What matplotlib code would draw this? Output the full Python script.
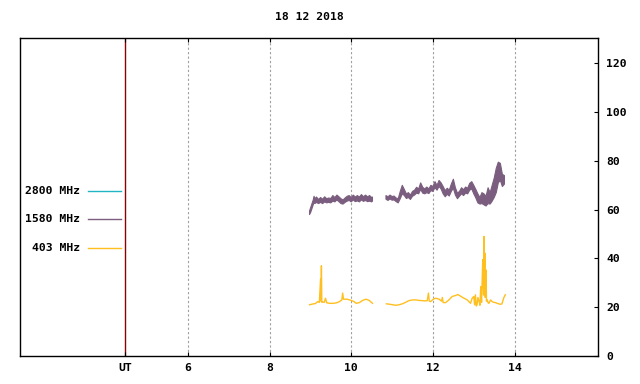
import numpy as np
import matplotlib
matplotlib.use('Agg')
import matplotlib.pyplot as plt

# chart data
title = '18 12 2018'
hour_ticks = [6, 8, 10, 12, 14]
y_ticks = [0, 20, 40, 60, 80, 100, 120]
ut_hour = 4.46
legend_names = ['2800 MHz', '1580 MHz', '403 MHz']
legend_colors = ['#20b4c4', '#7b5e7f', '#ffbf1f']

# 1580 MHz: noisy trace given as low / high envelope (NaN = gap in data)
t_1580 = [8.98, 9.01, 9.04, 9.07, 9.09, 9.11, 9.15, 9.20, 9.25, 9.30, 9.35, 9.40,
          9.45, 9.50, 9.55, 9.60, 9.65, 9.70, 9.75, 9.80, 9.85, 9.90, 9.95, 10.00,
          10.05, 10.10, 10.15, 10.20, 10.25, 10.30, 10.35, 10.40, 10.45, 10.50, 10.52,
          10.70,
          10.85, 10.90, 10.95, 11.00, 11.05, 11.10, 11.15, 11.20, 11.25, 11.30, 11.35,
          11.40, 11.45, 11.50, 11.55, 11.60, 11.65, 11.70, 11.75, 11.80, 11.85, 11.90,
          11.95, 12.00, 12.05, 12.10, 12.15, 12.20, 12.25, 12.30, 12.35, 12.40, 12.45,
          12.50, 12.55, 12.60, 12.65, 12.70, 12.75, 12.80, 12.85, 12.90, 12.95, 13.00,
          13.05, 13.10, 13.15, 13.20, 13.25, 13.30, 13.35, 13.40, 13.45, 13.50, 13.55,
          13.60, 13.65, 13.70, 13.75]
lo_1580 = [58.0, 59.0, 60.5, 62.0, 63.0, 62.5, 63.0, 62.5, 63.0, 62.5,
           63.2, 62.8, 63.0, 62.8, 63.5, 63.2, 64.0, 63.3, 62.5, 62.3,
           63.0, 63.5, 63.8, 63.2, 64.0, 63.3, 63.6, 63.2, 64.0, 63.4,
           63.8, 63.3, 63.5, 63.2, 63.5,
           np.nan,
           64.3, 63.8, 64.4, 63.9, 64.0, 63.3, 62.8, 64.5, 66.5, 65.8,
           64.6, 65.0, 64.2, 65.5, 66.0, 66.8, 66.5, 68.3, 66.8, 66.5,
           67.0, 66.6, 67.8, 67.5, 69.0, 68.0, 69.5, 68.5, 66.5, 65.3,
           66.3, 65.6, 67.5, 68.8, 66.0, 64.5, 65.5, 66.5, 65.8, 66.8,
           66.5, 68.0, 68.5, 66.5, 64.8, 62.8, 62.3, 62.5, 62.0, 61.5,
           62.5, 62.3, 63.5, 65.0, 67.0, 71.0, 72.0, 69.5, 70.5]
hi_1580 = [59.5, 61.0, 62.5, 64.0, 65.5, 64.5, 65.2, 64.2, 65.0, 64.3,
           65.3, 64.5, 64.8, 64.6, 65.8, 65.0, 66.0, 65.3, 64.5, 64.0,
           64.8, 65.5, 65.8, 65.0, 66.0, 65.2, 65.8, 65.2, 66.2, 65.3,
           66.0, 65.3, 65.8, 65.0, 65.2,
           np.nan,
           65.8, 65.3, 66.0, 65.4, 65.6, 64.8, 64.5, 67.5, 70.0, 68.3,
           66.5, 67.0, 66.0, 67.5, 68.0, 69.2, 68.5, 71.0, 69.2, 68.5,
           69.3, 68.5, 70.0, 69.5, 71.5, 70.0, 72.0, 71.0, 69.5, 67.8,
           68.8, 68.0, 70.5, 72.5, 69.0, 66.8, 67.5, 69.0, 68.2, 69.3,
           68.8, 70.8, 71.5, 70.0, 68.3, 66.5, 65.0, 67.0, 66.5, 65.5,
           69.0, 67.0, 70.0, 73.0, 77.0, 79.5, 79.0, 74.5, 74.0]

# 403 MHz
t_403 = [8.98, 9.05, 9.12, 9.18, 9.22, 9.25, 9.26, 9.27, 9.28, 9.30, 9.34, 9.37,
         9.40, 9.48, 9.56, 9.64, 9.71, 9.77, 9.79, 9.81, 9.90, 10.00, 10.07, 10.12,
         10.20, 10.28, 10.36, 10.44, 10.52,
         10.70,
         10.86, 10.95, 11.09, 11.17, 11.25, 11.33, 11.41, 11.50, 11.58, 11.66, 11.74,
         11.80, 11.86, 11.89, 11.91, 11.94, 12.02, 12.07, 12.15, 12.21, 12.23, 12.25,
         12.31, 12.39, 12.47, 12.55, 12.61, 12.67, 12.76, 12.84, 12.92, 12.96, 13.00,
         13.02, 13.04, 13.06, 13.08, 13.10, 13.13, 13.15, 13.17, 13.19, 13.21, 13.22,
         13.24, 13.25, 13.26, 13.27, 13.28, 13.30, 13.31, 13.33, 13.35, 13.37, 13.41,
         13.45, 13.49, 13.53, 13.57, 13.61, 13.65, 13.69, 13.73, 13.77]
v_403 = [21.0, 21.3, 21.5, 22.3, 22.0, 31.5, 22.5, 37.0, 22.0, 22.2, 22.0, 23.7,
         21.8, 21.6, 21.6, 21.8, 22.3, 23.0, 25.8, 23.3, 23.3, 22.8, 22.3, 21.6,
         21.9, 22.8, 23.3, 22.8, 21.6,
         np.nan,
         21.4, 21.2, 20.8, 21.0, 21.4, 22.0, 22.7, 23.0, 23.0, 22.8, 22.7,
         22.6, 22.7, 25.8, 22.5, 22.3, 23.4, 23.7, 23.3, 22.5, 24.0, 21.9,
         21.9, 23.0, 24.4, 24.8, 25.2, 24.6, 23.7, 23.0, 21.6, 23.7, 24.4,
         21.0, 25.1, 20.5, 21.0, 24.0, 22.3, 20.8, 28.5, 22.0, 34.0, 39.5,
         25.0, 49.0, 30.0, 42.2, 24.0, 35.3, 22.5, 23.0, 21.8, 21.6, 23.0,
         22.3, 22.0, 21.9, 21.6, 21.4, 21.2, 21.4, 23.7, 25.1]

plt.rcParams['font.family'] = 'DejaVu Sans Mono'
plt.rcParams['font.weight'] = 'bold'
plt.rcParams['font.size'] = 8.2

fig = plt.figure(figsize=(6.4, 3.84), dpi=100)
ax = fig.add_axes([20.3 / 640, 28 / 384, (598 - 20.3) / 640, (356.5 - 38.3) / 384])

# data traces
t1 = np.array(t_1580)
lo = np.array(lo_1580)
hi = np.array(hi_1580)
ok = ~np.isnan(lo)
ax.fill_between(t1, lo, hi, where=ok, color=legend_colors[1], linewidth=0.8,
                edgecolor=legend_colors[1])
ax.plot(t_403, v_403, color=legend_colors[2], linewidth=1.0)

ax.set_xlim(1.9, 16.04)
ax.set_ylim(0, 130.5)

# x axis: hour ticks plus UT marker
ax.set_xticks([ut_hour] + hour_ticks)
ax.set_xticklabels(['UT'] + [str(h) for h in hour_ticks])
for h in hour_ticks:
    ax.axvline(h, color='#a0a0a0', linewidth=0.8, linestyle=(0, (2, 2)), zorder=0)
ax.axvline(ut_hour, color='#8b0000', linewidth=1.0, zorder=1)

ax.set_yticks(y_ticks)
ax.tick_params(axis='x', direction='in', length=3, width=0.8, top=True, pad=5)
ax.tick_params(axis='y', direction='in', length=3, width=0.8, left=False, right=True,
               labelleft=False, labelright=True, pad=6)
for s in ax.spines.values():
    s.set_linewidth(1.0)

ax.set_title(title, fontsize=8.2, fontweight='bold', pad=13)

# gnuplot-style key on the left: right-aligned text then sample line
key_y = [67.8, 56.3, 44.4]
for name, col, yy in zip(legend_names, legend_colors, key_y):
    ax.text(3.36, yy, name, ha='right', va='center', fontsize=8.2, fontweight='bold')
    ax.plot([3.56, 4.36], [yy, yy], color=col, linewidth=1.0)

fig.savefig('out.png', dpi=100)
